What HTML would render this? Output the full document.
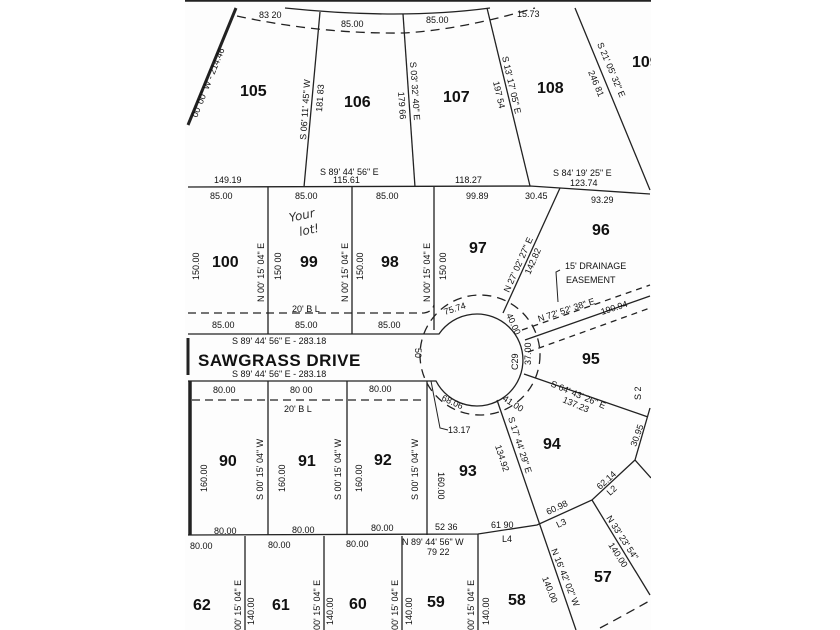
<!DOCTYPE html>
<html><head><meta charset="utf-8"><style>
html,body{margin:0;padding:0;background:#fff;}
svg{display:block;}
text{font-family:"Liberation Sans",sans-serif;fill:#111;}
.n{font-size:16px;font-weight:bold;}
.s{font-size:9px;}
</style></head><body>
<svg width="840" height="630" viewBox="0 0 840 630" xmlns="http://www.w3.org/2000/svg">
<defs><clipPath id="c"><rect x="185" y="0" width="466" height="630"/></clipPath></defs>
<rect width="840" height="630" fill="#fff"/>
<g clip-path="url(#c)">
<rect x="185" y="0" width="466" height="630" fill="#fdfdfd"/>
<g stroke="#222" stroke-width="1.3" fill="none">
<line x1="185" y1="0.8" x2="651" y2="0.8" stroke-width="1.8"/>
<path d="M285 8 Q400 20 490 8"/>
<path d="M237 16 Q320 34 403 33 Q460 30 535 8" stroke-dasharray="9 6"/>
<line x1="236" y1="8" x2="188" y2="125" stroke-width="3"/>
<line x1="320" y1="12" x2="304" y2="187"/>
<line x1="403" y1="14" x2="415" y2="187"/>
<line x1="487" y1="8" x2="530" y2="186"/>
<line x1="575" y1="8" x2="650" y2="190"/>
<polyline points="188,187 530,186 560,188 650,194"/>
<line x1="268" y1="187" x2="268" y2="334"/>
<line x1="352" y1="187" x2="352" y2="334"/>
<line x1="434" y1="187" x2="434" y2="330"/>
<line x1="560" y1="188" x2="503" y2="313"/>
<path d="M188 313 L424 313 Q432 312 434 305" stroke-dasharray="8 5"/>
<path d="M188 334 L439 334 A46 46 0 1 1 436 381 L188 381"/>
<circle cx="480" cy="355" r="60" stroke-dasharray="9 6"/>
<line x1="525" y1="340" x2="650" y2="296"/>
<line x1="522" y1="330" x2="650" y2="285" stroke-dasharray="6 5"/>
<line x1="528" y1="352" x2="650" y2="308" stroke-dasharray="6 5"/>
<polyline points="560,270 556,272 558,302" stroke-width="1"/>
<line x1="524" y1="374" x2="648" y2="417"/>
<line x1="497" y1="400" x2="576" y2="630"/>
<polyline points="650,408 635,460 592,500 537,525 478,534 188,535"/>
<line x1="635" y1="460" x2="651" y2="478"/>
<line x1="592" y1="500" x2="650" y2="595"/>
<path d="M600 628 Q630 612 651 600" stroke-dasharray="9 6"/>
<line x1="190" y1="381" x2="190" y2="535" stroke-width="3.5"/>
<line x1="188" y1="338" x2="188" y2="375" stroke-width="3"/>
<line x1="268" y1="381" x2="268" y2="535"/>
<line x1="347" y1="381" x2="347" y2="535"/>
<line x1="427" y1="381" x2="427" y2="535"/>
<path d="M192 400 L425 400" stroke-dasharray="8 5"/>
<polyline points="431,381 440,428 448,430" stroke-width="1"/>
<line x1="245" y1="536" x2="245" y2="630"/>
<line x1="324" y1="536" x2="324" y2="630"/>
<line x1="402" y1="536" x2="402" y2="630"/>
<line x1="478" y1="534" x2="478" y2="630"/>
</g>
<text class="n" x="240" y="96">105</text>
<text class="n" x="344" y="107">106</text>
<text class="n" x="443" y="102">107</text>
<text class="n" x="537" y="93">108</text>
<text class="n" x="632" y="67">109</text>
<text class="n" x="212" y="267">100</text>
<text class="n" x="300" y="267">99</text>
<text class="n" x="381" y="267">98</text>
<text class="n" x="469" y="253">97</text>
<text class="n" x="592" y="235">96</text>
<text class="n" x="582" y="364">95</text>
<text class="n" x="543" y="449">94</text>
<text class="n" x="459" y="476">93</text>
<text class="n" x="219" y="466">90</text>
<text class="n" x="298" y="466">91</text>
<text class="n" x="374" y="465">92</text>
<text class="n" x="594" y="582">57</text>
<text class="n" x="508" y="605">58</text>
<text class="n" x="427" y="607">59</text>
<text class="n" x="349" y="609">60</text>
<text class="n" x="272" y="610">61</text>
<text class="n" x="193" y="610">62</text>
<text x="198" y="366" style="font-size:17px;font-weight:bold;letter-spacing:0.5px">SAWGRASS DRIVE</text>
<g class="s">
<text x="259" y="18">83 20</text>
<text x="341" y="27">85.00</text>
<text x="426" y="23">85.00</text>
<text x="517" y="17">15.73</text>
<text x="214" y="183">149.19</text>
<text x="320" y="175">S 89' 44' 56"  E</text>
<text x="333" y="183">115.61</text>
<text x="455" y="183">118.27</text>
<text x="553" y="176">S 84' 19' 25"  E</text>
<text x="570" y="186">123.74</text>
<text x="210" y="199">85.00</text>
<text x="295" y="199">85.00</text>
<text x="376" y="199">85.00</text>
<text x="466" y="199">99.89</text>
<text x="525" y="199">30.45</text>
<text x="591" y="203">93.29</text>
<text x="292" y="312">20'  B L</text>
<text x="212" y="328">85.00</text>
<text x="295" y="328">85.00</text>
<text x="378" y="328">85.00</text>
<text x="232" y="344">S 89' 44' 56"  E - 283.18</text>
<text x="232" y="377">S 89' 44' 56"  E - 283.18</text>
<text x="213" y="393">80.00</text>
<text x="290" y="393">80 00</text>
<text x="369" y="392">80.00</text>
<text x="284" y="412">20'  B L</text>
<text x="448" y="433">13.17</text>
<text x="214" y="534">80.00</text>
<text x="292" y="533">80.00</text>
<text x="371" y="531">80.00</text>
<text x="435" y="530">52 36</text>
<text x="491" y="528">61 90</text>
<text x="502" y="542">L4</text>
<text x="190" y="549">80.00</text>
<text x="268" y="548">80.00</text>
<text x="346" y="547">80.00</text>
<text x="402" y="545">N 89' 44' 56" W</text>
<text x="427" y="555">79 22</text>
<text x="565" y="269">15'  DRAINAGE</text>
<text x="566" y="283">EASEMENT</text>
</g>
<g class="s">
<text transform="translate(197,118) rotate(-68)">00' 00" W - 214.46</text>
<text transform="translate(306,140) rotate(-86)">S 06' 11' 45" W</text>
<text transform="translate(322,112) rotate(-86)">181 83</text>
<text transform="translate(398,92) rotate(86)">179 66</text>
<text transform="translate(410,62) rotate(86)">S 03' 32' 40" E</text>
<text transform="translate(493,82) rotate(77)">197 54</text>
<text transform="translate(502,57) rotate(77)">S 13' 17' 05" E</text>
<text transform="translate(588,72) rotate(67)">246 81</text>
<text transform="translate(597,44) rotate(67)">S 21' 05' 32" E</text>
<text transform="translate(199,280) rotate(-90)">150.00</text>
<text transform="translate(264,302) rotate(-90)">N 00' 15' 04" E</text>
<text transform="translate(281,280) rotate(-90)">150 00</text>
<text transform="translate(348,302) rotate(-90)">N 00' 15' 04" E</text>
<text transform="translate(363,280) rotate(-90)">150.00</text>
<text transform="translate(430,302) rotate(-90)">N 00' 15' 04" E</text>
<text transform="translate(446,280) rotate(-90)">150 00</text>
<text transform="translate(509,293) rotate(-66)">N 27' 02' 27" E</text>
<text transform="translate(530,275) rotate(-66)">142.82</text>
<text transform="translate(445,315) rotate(-18)">75.74</text>
<text transform="translate(506,315) rotate(65)">40.00</text>
<text transform="translate(539,322) rotate(-18)">N 72' 52' 38" E</text>
<text transform="translate(602,315) rotate(-18)">190.94</text>
<text transform="translate(415,348) rotate(90)">50</text>
<text transform="translate(518,370) rotate(-90)">C29</text>
<text transform="translate(531,365) rotate(-90)">37.00</text>
<text transform="translate(550,386) rotate(23)">S 64' 43' 26" E</text>
<text transform="translate(562,402) rotate(23)">137.23</text>
<text transform="translate(502,400) rotate(33)">41.00</text>
<text transform="translate(441,400) rotate(25)">68.06</text>
<text transform="translate(508,418) rotate(72)">S 17' 44' 29" E</text>
<text transform="translate(495,446) rotate(72)">134.92</text>
<text transform="translate(636,447) rotate(-70)">30.95</text>
<text transform="translate(600,490) rotate(-42)">62.14</text>
<text transform="translate(610,496) rotate(-42)">L2</text>
<text transform="translate(548,515) rotate(-25)">60.98</text>
<text transform="translate(558,528) rotate(-25)">L3</text>
<text transform="translate(606,518) rotate(57)">N 33' 23' 54"</text>
<text transform="translate(608,545) rotate(57)">140.00</text>
<text transform="translate(551,550) rotate(68)">N 16' 42' 02" W</text>
<text transform="translate(542,578) rotate(68)">140.00</text>
<text transform="translate(207,492) rotate(-90)">160.00</text>
<text transform="translate(263,500) rotate(-90)">S 00' 15' 04" W</text>
<text transform="translate(285,492) rotate(-90)">160.00</text>
<text transform="translate(341,500) rotate(-90)">S 00' 15' 04" W</text>
<text transform="translate(362,492) rotate(-90)">160.00</text>
<text transform="translate(418,500) rotate(-90)">S 00' 15' 04" W</text>
<text transform="translate(438,472) rotate(90)">160.00</text>
<text transform="translate(241,630) rotate(-90)">00' 15' 04" E</text>
<text transform="translate(254,625) rotate(-90)">140.00</text>
<text transform="translate(320,630) rotate(-90)">00' 15' 04" E</text>
<text transform="translate(333,625) rotate(-90)">140.00</text>
<text transform="translate(398,630) rotate(-90)">00' 15' 04" E</text>
<text transform="translate(412,625) rotate(-90)">140.00</text>
<text transform="translate(474,630) rotate(-90)">00' 15' 04" E</text>
<text transform="translate(489,625) rotate(-90)">140.00</text>
<text transform="translate(641,400) rotate(-90)">S 2</text>
</g>
<text transform="translate(290,222) rotate(-12)" style="font-family:'DejaVu Sans',sans-serif;font-size:12px;font-style:italic;fill:#333">Your</text>
<text transform="translate(300,236) rotate(-12)" style="font-family:'DejaVu Sans',sans-serif;font-size:12px;font-style:italic;fill:#333">lot!</text>
</g>
</svg>
</body></html>
